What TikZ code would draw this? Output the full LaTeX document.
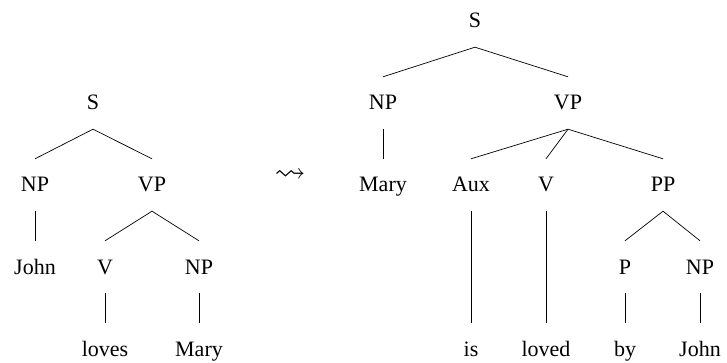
\documentclass[tikz,border=0pt]{standalone}
\usepackage{amssymb}
\usepackage{fontspec}
\setmainfont{Liberation Serif}
\begin{document}
\begin{tikzpicture}[x=1pt,y=-1pt,
  tn/.style={inner xsep=2pt, inner ysep=19pt, text height=14pt, text depth=0pt, font=\fontsize{22}{24}\selectfont},
  edge/.style={draw=black, line width=0.7pt}]
\useasboundingbox (0,0) rectangle (727,363);
% left tree
\node[tn] (lS) at (93,103) {S};
\node[tn] (lNP) at (35,185) {NP};
\node[tn] (lVP) at (152,185) {VP};
\node[tn] (lJohn) at (35,267) {John};
\node[tn] (lV) at (105,267) {V};
\node[tn] (lNP2) at (199,267) {NP};
\node[tn] (lloves) at (105,349) {loves};
\node[tn] (lMary) at (199,349) {Mary};
\draw[edge] (lS.south) -- (lNP.north);
\draw[edge] (lS.south) -- (lVP.north);
\draw[edge] (lNP.south) -- (lJohn.north);
\draw[edge] (lVP.south) -- (lV.north);
\draw[edge] (lVP.south) -- (lNP2.north);
\draw[edge] (lV.south) -- (lloves.north);
\draw[edge] (lNP2.south) -- (lMary.north);
% arrow
\node (arr) at (290,176) {\fontsize{31}{31}\selectfont$\leadsto$};
% right tree
\node[tn] (rS) at (475,21) {S};
\node[tn] (rNP) at (383,103) {NP};
\node[tn] (rVP) at (568,103) {VP};
\node[tn] (rMary) at (383,185) {Mary};
\node[tn] (rAux) at (471,185) {Aux};
\node[tn] (rV) at (546,185) {V};
\node[tn] (rPP) at (663,185) {PP};
\node[tn] (rP) at (625,267) {P};
\node[tn] (rNP2) at (700,267) {NP};
\node[tn] (ris) at (471,349) {is};
\node[tn] (rloved) at (546,349) {loved};
\node[tn] (rby) at (625,349) {by};
\node[tn] (rJohn) at (700,349) {John};
\draw[edge] (rS.south) -- (rNP.north);
\draw[edge] (rS.south) -- (rVP.north);
\draw[edge] (rNP.south) -- (rMary.north);
\draw[edge] (rVP.south) -- (rAux.north);
\draw[edge] (rVP.south) -- (rV.north);
\draw[edge] (rVP.south) -- (rPP.north);
\draw[edge] (rAux.south) -- (ris.north);
\draw[edge] (rV.south) -- (rloved.north);
\draw[edge] (rPP.south) -- (rP.north);
\draw[edge] (rPP.south) -- (rNP2.north);
\draw[edge] (rP.south) -- (rby.north);
\draw[edge] (rNP2.south) -- (rJohn.north);
\end{tikzpicture}
\end{document}
